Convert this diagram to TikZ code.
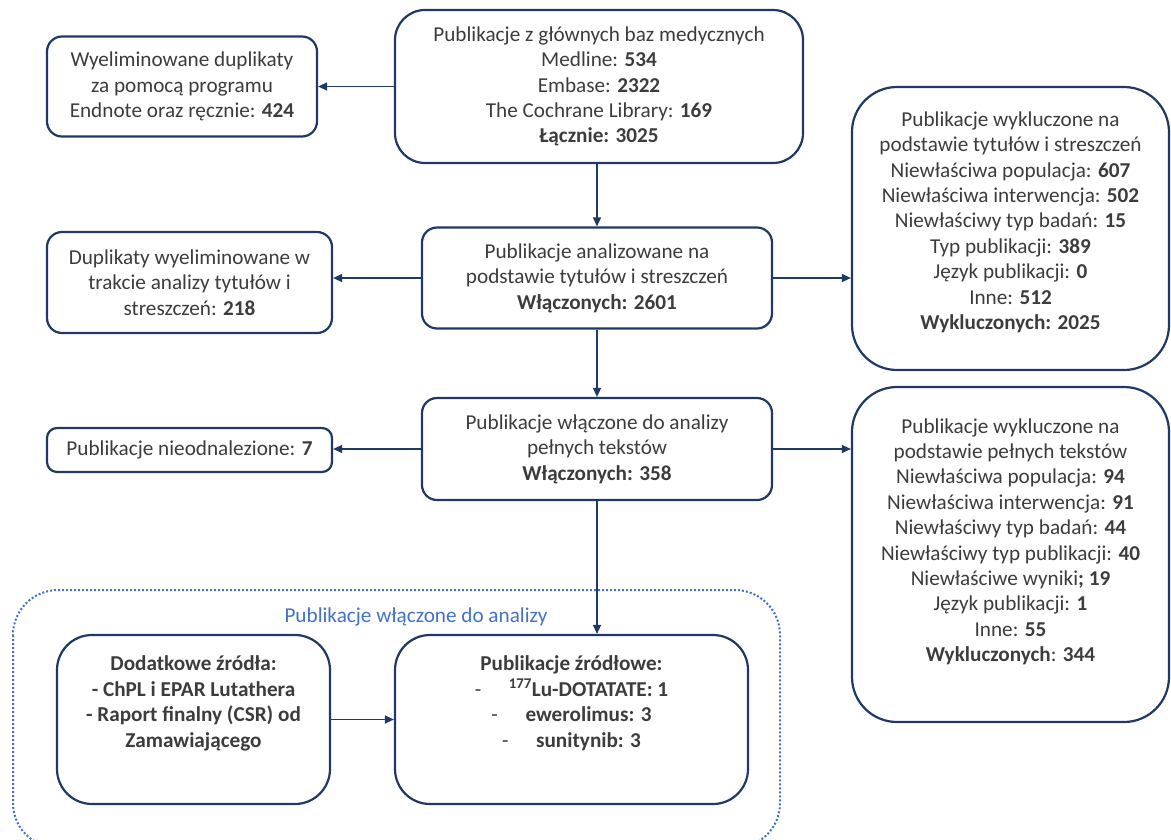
\documentclass[tikz,border=0pt]{standalone}
\usepackage{fontspec}
\setmainfont{Carlito}
\usepackage{tikz}
\usetikzlibrary{arrows.meta}
\definecolor{ramka}{RGB}{31,56,100}
\definecolor{tekst}{RGB}{60,60,60}
\definecolor{niebieski}{RGB}{68,114,196}
\tikzset{
	box/.style = {draw = ramka, line width = 2.2pt, rounded corners = 15pt, align = center, inner sep = 0pt, text = tekst, font = \fontsize{21.2}{25.4}\selectfont},
	strz/.style = {draw = ramka, line width = 1.3pt, -{Triangle[length = 9pt, width = 8pt]}}
}

\begin{document}
\begin{tikzpicture}[x = 1pt, y = -1pt]
			\useasboundingbox (0, 0) rectangle (1171, 839);
			\draw[niebieski, line width = 2pt, dotted, rounded corners = 45pt] (13, 590) rectangle (780, 848);
			\node[text = niebieski, font = \fontsize{21.2}{25.4}\selectfont] (tytul) at (416, 617) {Publikacje włączone do analizy};
			\node[box, rounded corners = 30pt, minimum width = 408pt, minimum height = 153pt] (bazy) at (599, 86.5) {Publikacje z głównych baz medycznych\\ Medline: \textbf{534}\\ Embase: \textbf{2322}\\ The Cochrane Library: \textbf{169}\\ \textbf{Łącznie: 3025}};
			\node[box, minimum width = 270pt, minimum height = 100pt] (dupl1) at (182, 86.5) {Wyeliminowane duplikaty\\ za pomocą programu\\ Endnote oraz ręcznie: \textbf{424}};
			\node[box, minimum width = 350pt, minimum height = 101pt] (tytuly) at (597, 278) {Publikacje analizowane na\\ podstawie tytułów i streszczeń\\ \textbf{Włączonych: 2601}};
			\node[box, minimum width = 285pt, minimum height = 101pt] (dupl2) at (189.5, 282.5) {Duplikaty wyeliminowane w\\ trakcie analizy tytułów i\\ streszczeń: \textbf{218}};
			\node[box, rounded corners = 45pt, minimum width = 317pt, minimum height = 283pt, text depth = 16pt] (wykl1) at (1010.5, 228.5) {Publikacje wykluczone na\\ podstawie tytułów i streszczeń\\ Niewłaściwa populacja: \textbf{607}\\ Niewłaściwa interwencja: \textbf{502}\\ Niewłaściwy typ badań: \textbf{15}\\ Typ publikacji: \textbf{389}\\ Język publikacji: \textbf{0}\\ Inne: \textbf{512}\\ \textbf{Wykluczonych: 2025}};
			\node[box, minimum width = 350pt, minimum height = 102pt] (pelne) at (597, 449) {Publikacje włączone do analizy\\ pełnych tekstów\\ \textbf{Włączonych: 358}};
			\node[box, rounded corners = 10pt, minimum width = 285pt, minimum height = 44pt] (nieodn) at (189.5, 450) {Publikacje nieodnalezione: \textbf{7}};
			\node[box, rounded corners = 45pt, minimum width = 317pt, minimum height = 335pt, text depth = 29pt] (wykl2) at (1010.5, 554.5) {Publikacje wykluczone na\\ podstawie pełnych tekstów\\ Niewłaściwa populacja: \textbf{94}\\ Niewłaściwa interwencja: \textbf{91}\\ Niewłaściwy typ badań: \textbf{44}\\ Niewłaściwy typ publikacji: \textbf{40}\\ Niewłaściwe wyniki\textbf{; 19}\\ Język publikacji: \textbf{1}\\ Inne: \textbf{55}\\ \textbf{Wykluczonych}: \textbf{344}};
			\node[box, rounded corners = 35pt, minimum width = 273pt, minimum height = 169pt, text depth = 36pt, font = \fontsize{21.2}{25.4}\selectfont\bfseries] (dodatk) at (193.5, 719.5) {Dodatkowe źródła:\\ - ChPL i EPAR Lutathera\\ - Raport finalny (CSR) od\\ Zamawiającego};
			\node[box, rounded corners = 35pt, minimum width = 353pt, minimum height = 169pt, text depth = 36pt] (zrodl) at (571.5, 719.5) {\textbf{Publikacje źródłowe:}\\ -\hspace{1.3em}\textbf{\textsuperscript{177}Lu-DOTATATE: 1}\\ -\hspace{1.3em}\textbf{ewerolimus: 3}\\ -\hspace{1.3em}\textbf{sunitynib: 3}};
			\draw[strz] (bazy.west) -- (bazy.west -| dupl1.east);
			\draw[strz] (bazy.south -| tytuly.north) -- (tytuly.north);
			\draw[strz] (tytuly.west) -- (tytuly.west -| dupl2.east);
			\draw[strz] (tytuly.east) -- (tytuly.east -| wykl1.west);
			\draw[strz] (tytuly.south) -- (pelne.north);
			\draw[strz] (pelne.west) -- (pelne.west -| nieodn.east);
			\draw[strz] (pelne.east) -- (pelne.east -| wykl2.west);
			\draw[strz] (pelne.south) -- (pelne.south |- zrodl.north);
			\draw[strz] (dodatk.east) -- (zrodl.west);
		\end{tikzpicture}
\end{document}
